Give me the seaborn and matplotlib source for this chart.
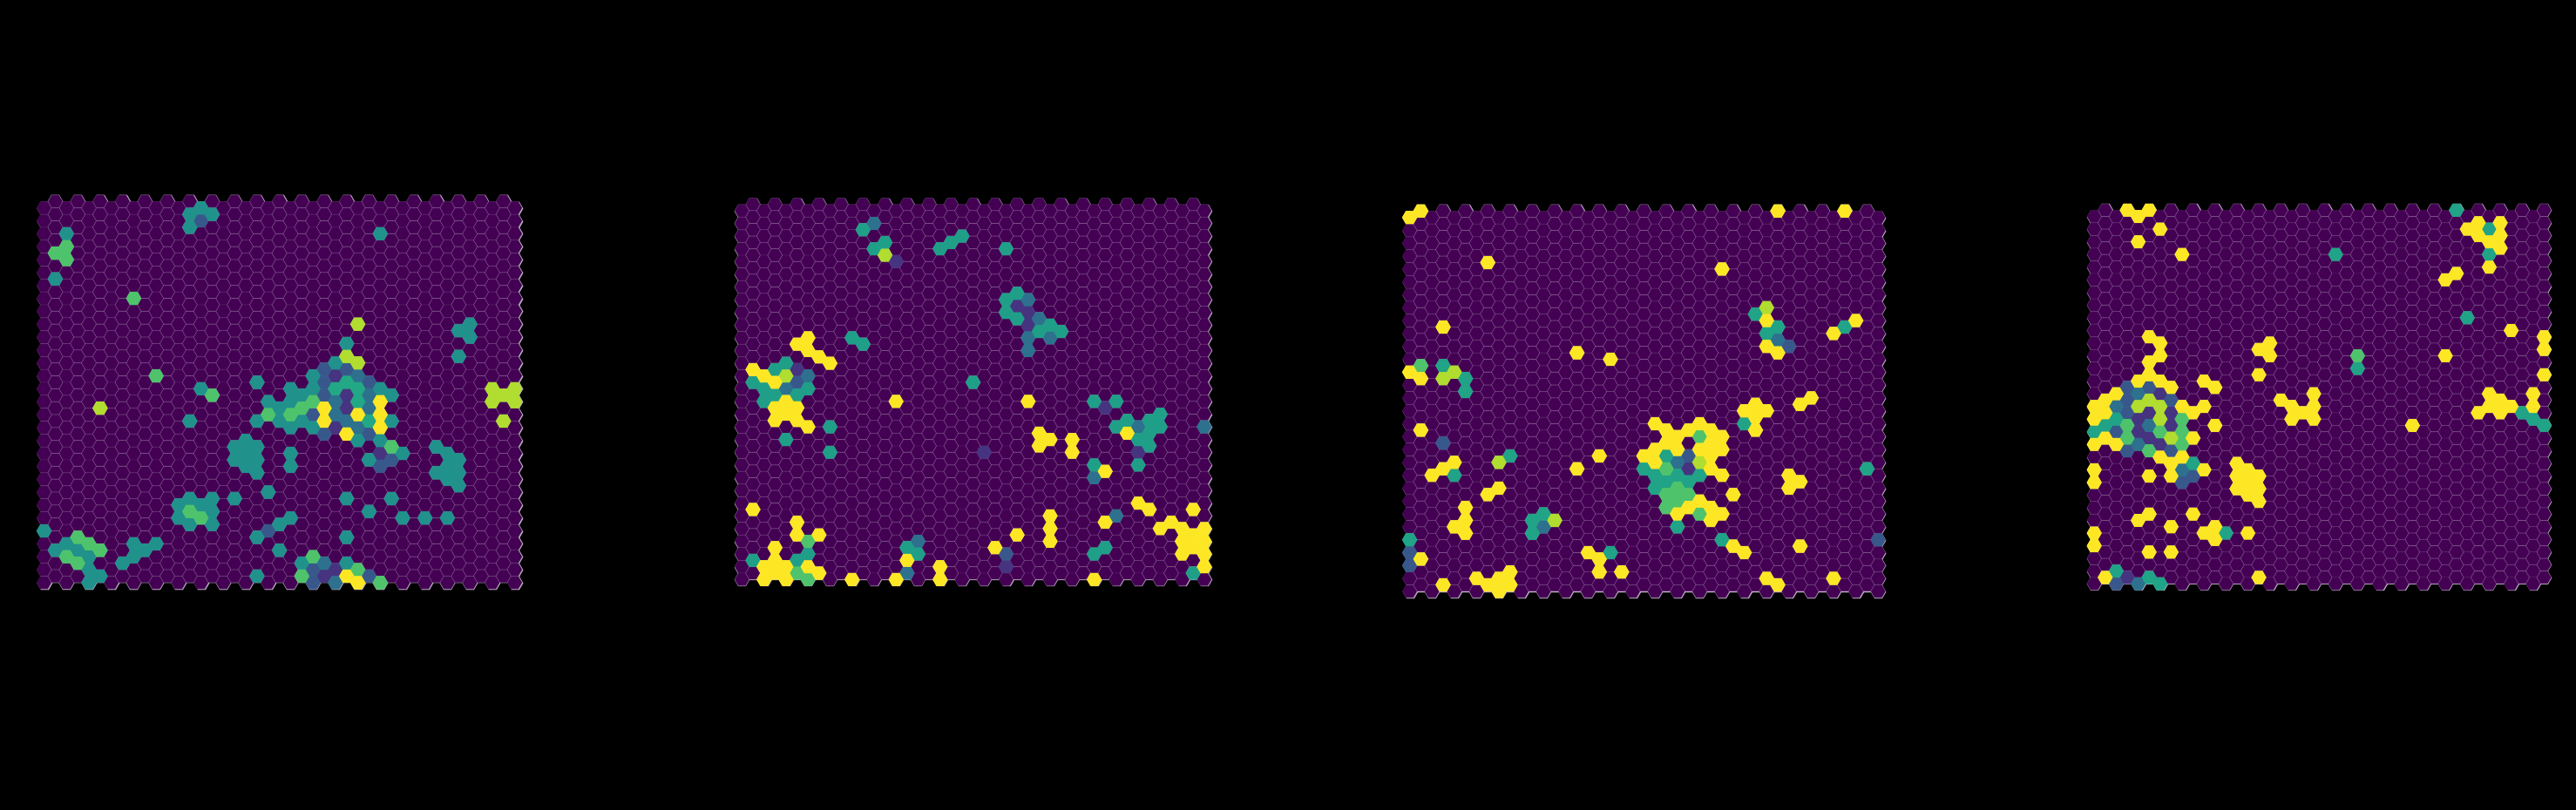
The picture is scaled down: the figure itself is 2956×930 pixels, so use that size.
import matplotlib
matplotlib.use("Agg")
import matplotlib.pyplot as plt
import pandas as pd
import seaborn as sns

# Spot values: lists of (column, half-row) cells per colour level; every other spot is 0.
p1_yellow = [(30,31),(25,32),(28,33),(30,33),(25,34),(30,35),(27,36),(27,58),(28,59)]
p1_lime = [(28,19),(27,24),(28,25),(40,29),(42,29),(41,30),(40,31),(42,31),(5,32),(41,34)]
p1_green = [(2,7),(1,8),(2,9),(8,15),(10,27),(15,30),(24,31),(23,32),(20,33),(22,33),(31,38),(13,48),(14,49),
            (3,52),(4,53),(5,54),(2,55),(24,55),(3,56),(28,57),(23,58),(30,59)]
p1_mint = [(27,28),(26,29),(28,29),(28,31),(29,34)]
p1_teal = [(14,1),(13,2),(15,2),(13,4),(2,5),(1,12),(30,5),(38,19),(37,20),(38,21),(37,24),(27,22),(26,25),(24,27),
           (19,28),(14,29),(22,29),(24,29),(30,29),(23,30),(31,30),(20,31),(22,31),(21,32),(13,34),(19,34),(21,34),
           (23,34),(31,34),(22,35),(24,35),(18,37),(28,37),(30,37),(17,38),(19,38),(35,38),(18,39),(22,39),(32,39),
           (36,39),(17,40),(19,40),(29,40),(37,40),(18,41),(22,41),(36,41),(19,42),(35,42),(37,42),(36,43),(37,44),
           (20,45),(13,46),(15,46),(17,46),(27,46),(31,46),(12,47),(14,47),(15,48),(29,48),(12,49),(22,49),(32,49),
           (34,49),(36,49),(13,50),(15,50),(21,50),(0,51),(19,52),(27,52),(2,53),(8,53),(10,53),(1,54),(3,54),(9,54),
           (21,54),(4,55),(8,55),(7,56),(23,56),(27,56),(4,57),(5,58),(19,58),(4,59)]
p1_steel = [(28,27),(29,30),(26,31),(26,33),(29,32),(27,34),(28,35),(25,56),(26,59)]
p1_blue = [(14,3),(25,26),(27,26),(25,28),(29,28),(25,30),(24,33),(25,36),(29,36),(31,40),(30,41),(20,51),(24,57),
           (29,58),(24,59)]
p1_violet = [(26,27),(27,30),(27,32),(26,35),(30,39),(26,57),(25,58)]

p2_yellow = [(6,21),(5,22),(6,23),(7,24),(8,25),(1,26),(2,27),(3,28),(4,31),(3,32),(5,32),(4,33),(3,34),(5,34),(6,35),
             (14,31),(26,31),(35,36),(27,36),(28,37),(27,38),(30,37),(30,39),(33,42),(36,47),(37,48),(41,48),(1,48),
             (28,49),(5,50),(33,50),(39,50),(28,51),(38,51),(40,51),(42,51),(5,52),(7,52),(25,52),(41,52),(28,53),
             (40,53),(42,53),(3,54),(23,54),(41,54),(40,55),(42,55),(3,56),(15,56),(2,57),(4,57),(6,57),(18,57),(42,57),
             (3,58),(7,58),(2,59),(4,59),(10,59),(14,59),(18,59),(32,59)]
p2_lime = [(13,8),(4,27)]
p2_green = [(6,53),(5,58),(6,59)]
p2_mint = [(11,4),(13,6),(12,7),(20,5),(19,6),(18,7),(24,7),(25,14),(24,15),(24,17),(25,18),(28,19),(27,20),(29,20),
           (10,21),(11,22),(4,25),(3,26),(1,28),(2,29),(6,29),(3,30),(5,30),(2,31),(8,35),(4,37),(8,39),(21,28),(32,31),
           (34,31),(38,33),(35,34),(37,34),(34,35),(38,35),(37,36),(36,37),(37,38),(36,41),(32,41),(15,54),(33,54),
           (6,55),(16,55),(32,55),(1,56),(5,56),(41,58)]
p2_steel = [(12,3),(26,15),(27,18),(26,21),(28,21),(26,23),(6,27),(4,29),(36,35),(42,35),(32,43),(34,49),(16,53),(15,58)]
p2_blue = [(5,28),(24,55)]
p2_violet = [(14,9),(25,16),(26,17),(26,19),(5,26),(33,32),(36,39),(22,39),(24,57)]

p3_yellow = [(1,0),(0,1),(33,0),(39,0),(7,8),(28,9),(32,17),(40,17),(3,18),(38,19),(32,21),(15,22),(33,22),(18,23),
             (0,25),(1,26),(36,29),(35,30),(31,30),(30,31),(32,31),(31,32),(22,33),(26,33),(1,34),(23,34),(25,34),
             (27,34),(31,34),(24,35),(28,35),(23,36),(27,36),(22,37),(24,37),(26,37),(28,37),(17,38),(21,38),(27,38),
             (4,39),(22,39),(3,40),(15,40),(27,40),(2,41),(28,41),(34,41),(35,42),(8,43),(34,43),(7,44),(29,44),(5,46),
             (26,45),(25,46),(27,46),(24,47),(28,47),(5,48),(27,48),(4,49),(5,50),(29,52),(35,52),(16,53),(30,53),(1,54),
             (17,54),(17,56),(19,56),(9,56),(6,57),(8,57),(32,57),(38,57),(3,58),(7,58),(9,58),(33,58),(8,59)]
p3_lime = [(32,15),(4,25),(3,26),(8,39),(26,39),(13,48)]
p3_green = [(1,24),(26,35),(23,40),(24,43),(23,44),(25,44),(24,45),(23,46),(26,47)]
p3_mint = [(31,16),(33,18),(39,18),(32,19),(3,24),(5,26),(5,28),(30,33),(9,38),(23,38),(21,40),(41,40),(4,41),(22,41),
           (24,41),(26,41),(23,42),(25,42),(22,43),(12,47),(11,48),(24,49),(11,50),(0,51),(28,51),(18,53)]
p3_steel = [(33,20),(24,39),(12,49)]
p3_blue = [(34,21),(3,36),(25,38),(42,51),(0,53),(0,55)]
p3_violet = [(25,40)]

p4_yellow = [(3,0),(5,0),(4,1),(6,3),(4,5),(8,7),(35,2),(37,2),(34,3),(35,4),(37,4),(36,5),(37,6),(36,9),(33,10),(32,11),
             (38,19),(41,20),(41,22),(41,26),(5,20),(6,21),(16,21),(15,22),(16,23),(6,23),(32,23),(5,24),(5,26),(15,26),
             (4,27),(6,27),(10,27),(7,28),(11,28),(2,29),(20,29),(36,29),(40,29),(1,30),(17,30),(37,30),(0,31),(8,31),
             (10,31),(18,31),(20,31),(36,31),(38,31),(40,31),(1,32),(9,32),(19,32),(35,32),(37,32),(0,33),(18,33),(20,33),
             (11,34),(29,34),(1,36),(9,36),(0,37),(2,37),(6,39),(8,39),(7,40),(13,40),(0,41),(10,41),(14,41),(5,42),(7,42),
             (13,42),(15,42),(0,43),(14,43),(13,44),(15,44),(14,45),(15,46),(5,48),(9,48),(4,49),(7,50),(11,50),(0,51),
             (10,51),(14,51),(11,52),(0,53),(5,54),(7,54),(1,58),(15,58)]
p4_lime = [(5,30),(4,31),(6,31),(6,33),(7,36)]
p4_green = [(24,23),(8,33),(3,34),(6,35),(8,35),(3,36),(8,37),(5,38)]
p4_mint = [(33,0),(36,3),(36,7),(22,7),(34,17),(24,25),(39,32),(40,33),(41,34),(2,33),(1,34),(0,35),(9,40),(12,51),
           (2,57),(5,58),(6,59)]
p4_steel = [(4,29),(5,34),(4,37),(8,41),(2,31),(4,59)]
p4_blue = [(3,28),(5,28),(3,30),(7,30),(3,32),(2,35),(3,38),(7,38),(9,42),(8,43),(2,59)]
p4_violet = [(6,29),(5,32),(7,32),(4,33),(7,34),(4,35),(5,36),(6,37),(3,58)]

panel_levels = [1.0, 0.88, 0.72, 0.6, 0.5, 0.37, 0.27, 0.15]
panel1_cells = [p1_yellow, p1_lime, p1_green, p1_mint, p1_teal, p1_steel, p1_blue, p1_violet]
panel2_cells = [p2_yellow, p2_lime, p2_green, p2_mint, [], p2_steel, p2_blue, p2_violet]
panel3_cells = [p3_yellow, p3_lime, p3_green, p3_mint, [], p3_steel, p3_blue, p3_violet]
panel4_cells = [p4_yellow, p4_lime, p4_green, p4_mint, [], p4_steel, p4_blue, p4_violet]
panels = [panel1_cells, panel2_cells, panel3_cells, panel4_cells]
panel_cols = [43, 43, 43, 42]
mint_tone = [0.6, 0.56, 0.58, 0.58]

# pixel layout: first col centre, col step, first half-row centre, half-row step
layout = [(50.6, 12.857, 231.3, 7.417),
          (851.4, 12.63, 234.6, 7.30),
          (1617.6, 12.80, 242.3, 7.40),
          (2403.2, 12.59, 241.3, 7.27)]

W, H = 2956, 930
sns.set_theme(style="white")
fig = plt.figure(figsize=(W/100, H/100), dpi=100, facecolor="black")

for k, (cells, ncols, (x0, dx, y0, dy)) in enumerate(zip(panels, panel_cols, layout)):
    lookup = {}
    for lvl, group in zip(panel_levels, cells):
        v = mint_tone[k] if lvl == 0.6 else lvl
        for c in group:
            lookup[c] = v
    rows = []
    for c in sorted(range(ncols), key=lambda col: col % 2):   # even columns first, odd on top
        for r in range(30):
            h = 2*r + (0 if c % 2 else 1)
            rows.append((c, h, lookup.get((c, h), 0.0)))
    df = pd.DataFrame(rows, columns=["col", "half", "value"])

    left = x0 - 20; right = x0 + dx*(ncols-1) + 20
    top = y0 - 20; bottom = y0 + dy*60 + 20
    ax = fig.add_axes([left/W, 1-bottom/H, (right-left)/W, (bottom-top)/H])
    ax.set_xlim((left-x0)/dx, (right-x0)/dx)
    ax.set_ylim((bottom-y0)/dy, (top-y0)/dy)
    ax.set_axis_off()
    R_pt = (dx/0.75)/2*0.72
    s = (2*R_pt)**2
    hex_marker = (6, 0, 30)
    edges = [(1, 1, 1, 0.11 if c % 2 else 0.04) for c in df["col"]]
    sns.scatterplot(data=df, x="col", y="half", color="#bdb0c4", marker=hex_marker, s=s*1.10,
                    linewidth=0, legend=False, ax=ax, clip_on=False)
    sns.scatterplot(data=df, x="col", y="half", hue="value", hue_norm=(0, 1), palette="viridis",
                    marker=hex_marker, s=s, edgecolor=edges, linewidth=0.8,
                    legend=False, ax=ax, clip_on=False)
    spots = df[df["value"] > 0].sort_values("value")
    sns.scatterplot(data=spots, x="col", y="half", hue="value", hue_norm=(0, 1), palette="viridis",
                    marker=hex_marker, s=s*1.06, linewidth=0,
                    legend=False, ax=ax, clip_on=False)
    ax.set_xlabel(""); ax.set_ylabel("")

fig.savefig("out.png", dpi=100, facecolor="black")
